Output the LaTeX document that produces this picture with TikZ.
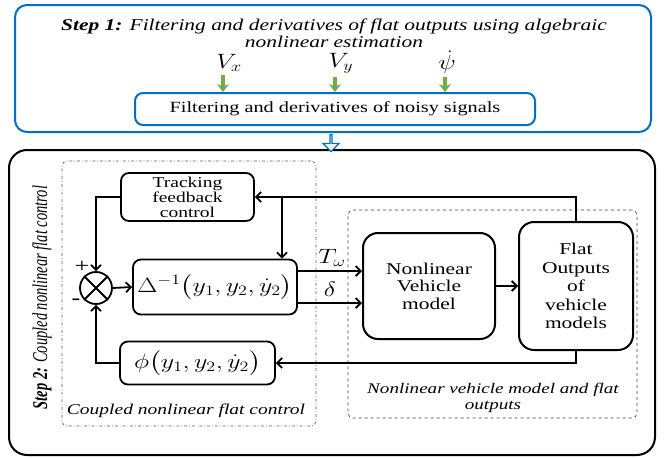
\documentclass[tikz,border=0pt]{standalone}
\usepackage{fontspec}
\setmainfont{Liberation Serif}[FakeStretch=1.3]
\newfontfamily\plainserif{Liberation Serif}
\usepackage{amsmath}
\usetikzlibrary{positioning, arrows.meta, shapes.arrows}
\definecolor{stepblue}{RGB}{0,112,192}
\definecolor{arrowgreen}{RGB}{112,173,71}
\definecolor{groupgray}{RGB}{90,90,120}
% stretched math, like the text
\newcommand{\widemath}[1]{\scalebox{1.25}[1]{$#1$}}

\begin{document}
\begin{tikzpicture}[x=1pt, y=-1pt,
			% blue frame of step 1
			bluebox/.style={rectangle, draw=stepblue, line width=2pt, rounded corners=12pt},
			% black blocks with rounded corners
			blockbox/.style={rectangle, draw=black, line width=1.8pt, rounded corners=8pt, align=center, inner sep=0pt, font=\fontsize{15}{15}\selectfont},
			modelbox/.style={blockbox, rounded corners=15pt, line width=2pt, font=\fontsize{16.5}{17.5}\selectfont},
			% thin frames round each group
			groupbox/.style={rectangle, draw=groupgray, line width=0.7pt, rounded corners=5pt},
			sumnode/.style={circle, draw=black, line width=1.8pt, minimum size=32pt, inner sep=0pt},
			varnode/.style={font=\fontsize{21}{24}\selectfont},
			point/.style={coordinate},
			>={Straight Barb[length=5pt,width=10pt]},
			signal/.style={->, line width=1.8pt},
			greenarrow/.style={-{Stealth[length=8pt,width=12pt]}, draw=arrowgreen, line width=3.5pt}
		]
		\useasboundingbox (0,0) rectangle (665,458);

		%Step 1
		\node[bluebox, minimum width=636pt, minimum height=127pt]   (stepone)   at (333,68.5)   {};
		\node[align=center, font=\fontsize{16.5}{17}\selectfont\itshape] (steponetext) at (334,33.5)
			{\textbf{Step 1:} Filtering and derivatives of flat outputs using algebraic\\nonlinear estimation};
		\node[bluebox, minimum width=400pt, minimum height=32pt, rounded corners=8pt, font=\fontsize{15.6}{16}\selectfont]
			(noisy)     at (335,109)    {Filtering and derivatives of noisy signals};
		\node[varnode]      (vx)        at (229,63)     {\widemath{V_x}};
		\node[varnode]      (vy)        at (341,63)     {\widemath{V_y}};
		\node[varnode]      (psi)       at (447,62)     {\widemath{\dot{\psi}}};
		\draw[greenarrow] ([xshift=-6pt]vx.south)   --  ([xshift=-6pt]vx.south |- noisy.north);
		\draw[greenarrow] ([xshift=-6pt]vy.south)   --  ([xshift=-6pt]vy.south |- noisy.north);
		\draw[greenarrow] ([xshift=-2pt]psi.south)  --  ([xshift=-2pt]psi.south |- noisy.north);

		%Step 2
		\node[rectangle, draw=black, line width=2pt, rounded corners=18pt, minimum width=646pt, minimum height=305pt]
			(steptwo)   at (332,302.5)  {};
		\node[single arrow, draw=stepblue, fill=white, line width=1.2pt, rotate=-90, minimum height=17pt,
			minimum width=16pt, single arrow head extend=4pt, inner sep=0pt] (handover) at (331,142.5) {};
		\node[rotate=90, font=\plainserif\fontsize{14.5}{16}\selectfont\itshape] (steptwotext) at (42,297.5)
			{\scalebox{1}[1.45]{\textbf{Step 2:} Coupled nonlinear flat control}};

		%Groups
		\node[groupbox, dash dot, minimum width=254pt, minimum height=265pt] (control)  at (189,293.5)  {};
		\node[font=\fontsize{15}{16}\selectfont\itshape]  (controllabel)  at (186,411)    {Coupled nonlinear flat control};
		\node[groupbox, dashed, draw=black!75, minimum width=289pt, minimum height=208pt] (vehicle) at (492.5,314) {};
		\node[align=center, font=\fontsize{14.7}{16}\selectfont\itshape] (vehiclelabel) at (493,398)
			{Nonlinear vehicle model and flat\\outputs};

		%Nodes
		\node[blockbox, minimum width=133pt, minimum height=48pt]   (track)     at (187.5,197)  {Tracking\\feedback\\control};
		\node[sumnode]                                              (sum)       at (96,288)     {};
		\draw[line width=1.8pt] (sum.north west) -- (sum.south east) (sum.north east) -- (sum.south west);
		\node[blockbox, minimum width=164pt, minimum height=55pt, font=\fontsize{21}{24}\selectfont]
			(delta)     at (215,287)    {\widemath{\Delta^{-1}\bigl(y_1,y_2,\dot{y}_2\bigr)}};
		\node[blockbox, minimum width=155pt, minimum height=43pt, font=\fontsize{21}{24}\selectfont]
			(phi)       at (197.5,363)  {\widemath{\phi\bigl(y_1,y_2,\dot{y}_2\bigr)}};
		\node[modelbox, minimum width=132pt, minimum height=106pt] (nvm)  at (429,286)   {Nonlinear\\Vehicle\\model};
		\node[modelbox, minimum width=114pt, minimum height=128pt, font=\fontsize{16.5}{18.5}\selectfont]
			(flat)      at (576,286)    {Flat\\Outputs\\of\\vehicle\\models};
		\node[font=\fontsize{20}{20}\selectfont]            (plus)      at (82,267)     {+};
		\node[font=\fontsize{20}{20}\selectfont\bfseries]   (minus)     at (76,302)     {-};
		\node[varnode]                              (torque)    at (332,258)    {\widemath{T_\omega}};
		\node[varnode]                              (steer)     at (330,289)    {\widemath{\delta}};
		\node[point]                                (branch)    at (282,197)    {};

		%Lines
		\draw[signal] (track.west)      -|            (sum.north);
		\draw[signal] (phi.west)        -|            (sum.south);
		\draw[signal] (sum.east)        --            (delta.west);
		\draw[signal] (flat.north)      |-            (track.east);
		\draw[signal] (branch)          --            (branch |- delta.north);
		\draw[signal] ([yshift=16pt]delta.east)   --  ([yshift=16pt]delta.east -| nvm.west);
		\draw[signal] ([yshift=-16pt]delta.east)  --  ([yshift=-16pt]delta.east -| nvm.west);
		\draw[signal] (nvm.east)        --            (flat.west);
		\draw[signal] (flat.south)      |-            (phi.east);
	\end{tikzpicture}
\end{document}
